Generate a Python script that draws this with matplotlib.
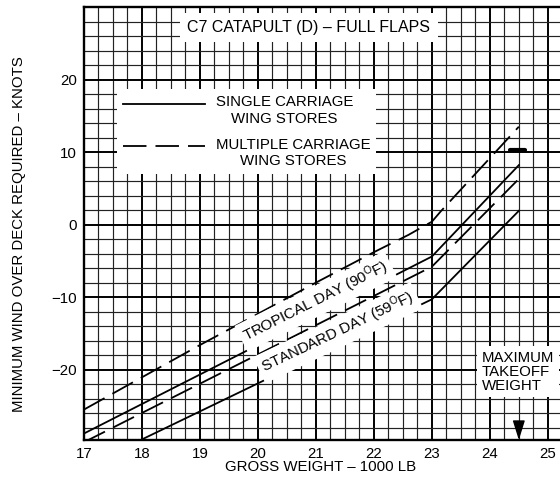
import matplotlib
matplotlib.use("Agg")
import matplotlib.pyplot as plt
import matplotlib.transforms as mtransforms
import numpy as np

plt.rcParams['font.family'] = ['Liberation Sans', 'DejaVu Sans']
plt.rcParams['mathtext.fontset'] = 'custom'
plt.rcParams['mathtext.rm'] = 'Liberation Sans'
plt.rcParams['mathtext.default'] = 'rm'

# gross weight (1000 lb) / minimum wind over deck (knots)
trop_single_w = [17.0, 23.0, 24.5]
trop_single_v = [-28.8, -4.4, 8.2]

std_single_w = [17.9, 23.0, 24.5]
std_single_v = [-30.0, -10.3, 1.9]

trop_multi_w = [17.0, 19.0, 21.0, 22.0, 22.6, 23.0, 23.15, 24.5]
trop_multi_v = [-25.5, -16.6, -8.0, -3.8, -1.4, 0.4, 1.8, 13.5]

std_multi_w = [17.0, 23.0, 24.5]
std_multi_v = [-30.0, -5.8, 6.3]

mark_w = [24.35, 24.6]
mark_v = [10.3, 10.3]

max_takeoff_w = 24.5

x_ticks = [17, 18, 19, 20, 21, 22, 23, 24, 25]
y_ticks = [-20, -10, 0, 10, 20]

FS = 10.8
DASH = (13, 5)

fig = plt.figure(figsize=(5.6, 4.82), dpi=100)
ax = fig.add_axes([0.15, 0.0871, 0.85, 0.8983])
ax.set_xlim(17, 25.21)
ax.set_ylim(-29.7, 30)

# grid
for xv in np.arange(17, 25.3, 0.25):
    major = abs(xv - round(xv)) < 1e-6
    ax.axvline(xv, color='black' if major else '#222222',
               lw=1.4 if major else 0.85, zorder=0)
for yv in np.arange(-28, 30.1, 2):
    major = abs(yv % 10) < 1e-6
    ax.axhline(yv, color='black' if major else '#222222',
               lw=1.4 if major else 0.85, zorder=0)

lw = 1.3
ax.plot(trop_single_w, trop_single_v, color='black', lw=lw, zorder=3,
        label='SINGLE CARRIAGE\nWING STORES')
ax.plot(trop_multi_w, trop_multi_v, color='black', lw=lw, dashes=DASH, zorder=3,
        label='MULTIPLE CARRIAGE\nWING STORES')
ax.plot(std_single_w, std_single_v, color='black', lw=lw, zorder=3)
ax.plot(std_multi_w, std_multi_v, color='black', lw=lw, dashes=DASH, zorder=3)
ax.plot(mark_w, mark_v, color='black', lw=3, solid_capstyle='round', zorder=3)

leg = ax.legend(loc='upper left', bbox_to_anchor=(0.069, 0.81), fontsize=FS,
                frameon=True, fancybox=False, framealpha=1, edgecolor='white',
                handlelength=5.5, handletextpad=0.7, labelspacing=0.8,
                borderpad=0.4, borderaxespad=0)
leg.get_frame().set_linewidth(0)
for t in leg.get_texts():
    t.set_multialignment('center')
# put the sample line level with the first text line
for ln in leg.get_lines():
    ln.set_transform(ln.get_transform() + mtransforms.Affine2D().translate(0, 7))
leg.set_zorder(5)

white = dict(facecolor='white', edgecolor='none', boxstyle='square,pad=0.25')

ax.text(20.88, 27.2, 'C7 CATAPULT (D) \u2013 FULL FLAPS', fontsize=11.5,
        ha='center', va='center', zorder=6,
        bbox=dict(facecolor='white', edgecolor='none', boxstyle='square,pad=0.45'))

ax.text(21.0, -10.6, 'TROPICAL DAY (90$^{O}$F)', fontsize=FS, rotation=26.6,
        ha='center', va='center', rotation_mode='anchor', zorder=4, bbox=white)
ax.text(21.38, -14.9, 'STANDARD DAY (59$^{O}$F)', fontsize=FS, rotation=25.5,
        ha='center', va='center', rotation_mode='anchor', zorder=4, bbox=white)

ax.text(23.86, -17.4, 'MAXIMUM\nTAKEOFF\nWEIGHT', fontsize=FS, ha='left',
        va='top', linespacing=1.0, zorder=4,
        bbox=dict(facecolor='white', edgecolor='none', boxstyle='square,pad=0.3'))

ax.annotate('', xy=(max_takeoff_w, -29.7), xytext=(max_takeoff_w, -27.3),
            arrowprops=dict(arrowstyle='-|>,head_length=0.8,head_width=0.25',
                            color='black', lw=1, shrinkA=0, shrinkB=0,
                            mutation_scale=15),
            zorder=6)

ax.set_xticks(x_ticks)
ax.set_yticks(y_ticks)
ax.tick_params(length=0, labelsize=FS, pad=5)
for s in ['left', 'bottom', 'top']:
    ax.spines[s].set_linewidth(1.7)
ax.spines['right'].set_visible(False)

ax.set_xlabel('GROSS WEIGHT \u2013 1000 LB', fontsize=FS)
ax.set_ylabel('MINIMUM WIND OVER DECK REQUIRED \u2013 KNOTS', fontsize=FS)
ax.xaxis.set_label_coords(0.497, -0.045)
ax.yaxis.set_label_coords(-0.122, 0.476)

fig.savefig('out.png', dpi=100, facecolor='white')
